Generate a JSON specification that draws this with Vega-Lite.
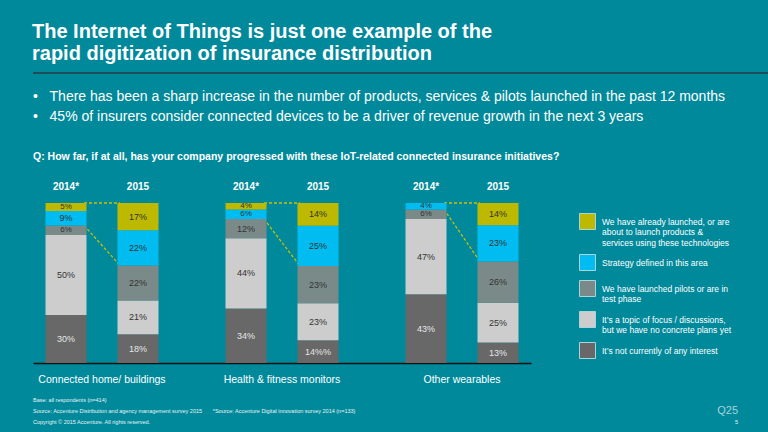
{
  "$schema": "https://vega.github.io/schema/vega-lite/v6.json",
  "background": "#00899B",
  "padding": {"left": 32, "top": 22, "right": 0, "bottom": 8},
  "config": {"font": "Liberation Sans", "view": {"stroke": null}, "concat": {"spacing": 15}},
  "resolve": {"legend": {"color": "independent"}},
  "title": {
    "text": ["The Internet of Things is just one example of the", "rapid digitization of insurance distribution"],
    "anchor": "start", "color": "#ffffff", "font": "Liberation Sans", "fontSize": 20, "fontWeight": "bold", "lineHeight": 22, "offset": 8
  },
  "vconcat": [
    {
      "width": 736, "height": 2,
      "data": {"values": [{"s": 0, "e": 1}]},
      "mark": {"type": "rule", "color": "#1F4D56", "strokeWidth": 2},
      "encoding": {
        "x": {"field": "s", "type": "quantitative", "scale": {"domain": [0, 1]}, "axis": null},
        "x2": {"field": "e"}
      }
    },
    {
      "spacing": 13,
      "resolve": {"legend": {"color": "independent"}},
      "vconcat": [
        {
          "title": {
            "text": ["•\u00a0\u00a0\u00a0There has been a sharp increase in the number of products, services & pilots launched in the past 12 months", "•\u00a0\u00a0\u00a045% of insurers consider connected devices to be a driver of revenue growth in the next 3 years"],
            "subtitle": "Q: How far, if at all, has your company progressed with these IoT-related connected insurance initiatives?",
            "anchor": "start", "color": "#ffffff", "fontSize": 14, "fontWeight": "normal", "lineHeight": 20,
            "subtitleColor": "#ffffff", "subtitleFontSize": 10.5, "subtitleFontWeight": "bold", "subtitlePadding": 28, "offset": 20
          },
          "width": 498, "height": 160,
          "layer": [
            {
              "data": {"values": [
                {"group": "Connected home/ buildings", "conn": "top", "slot": "a", "lvl": 1},
                {"group": "Connected home/ buildings", "conn": "top", "slot": "b", "lvl": 1},
                {"group": "Connected home/ buildings", "conn": "diag", "slot": "a", "lvl": 0.86},
                {"group": "Connected home/ buildings", "conn": "diag", "slot": "b", "lvl": 0.61},
                {"group": "Health & fitness monitors", "conn": "top", "slot": "a", "lvl": 1},
                {"group": "Health & fitness monitors", "conn": "top", "slot": "b", "lvl": 1},
                {"group": "Health & fitness monitors", "conn": "diag", "slot": "a", "lvl": 0.90},
                {"group": "Health & fitness monitors", "conn": "diag", "slot": "b", "lvl": 0.606},
                {"group": "Other wearables", "conn": "top", "slot": "a", "lvl": 1},
                {"group": "Other wearables", "conn": "top", "slot": "b", "lvl": 1},
                {"group": "Other wearables", "conn": "diag", "slot": "a", "lvl": 0.96},
                {"group": "Other wearables", "conn": "diag", "slot": "b", "lvl": 0.634}
              ]},
              "mark": {"type": "line", "color": "#C8C000", "strokeDash": [3, 2], "strokeWidth": 1.3},
              "encoding": {
                "x": {"field": "group", "type": "nominal"},
                "xOffset": {"field": "slot", "type": "nominal"},
                "y": {"field": "lvl", "type": "quantitative"},
                "detail": [{"field": "group"}, {"field": "conn"}]
              }
            },
            {
              "data": {"name": "bars"},
              "layer": [
                {
                  "mark": {"type": "bar", "width": 41},
                  "encoding": {
                    "x": {"field": "group", "type": "nominal"},
                    "xOffset": {"field": "year", "type": "nominal"},
                    "y": {"field": "v", "type": "quantitative", "stack": "normalize"},
                    "order": {"field": "rank", "type": "quantitative", "sort": "ascending"},
                    "color": {
                      "field": "cat", "type": "nominal",
                      "scale": {"domain": ["launched", "strategy", "pilots", "topic", "none"], "range": ["#BDB900", "#00BCF0", "#7A8A88", "#CDCDCD", "#686868"]},
                      "legend": {
                        "title": null, "orient": "right", "offset": 38, "padding": 10,
                        "symbolType": "square", "symbolSize": 256, "symbolStrokeColor": "#A8D4DA", "symbolStrokeWidth": 1, "symbolOpacity": 1,
                        "labelColor": "#ffffff", "labelFontSize": 8.5, "labelLimit": 300, "labelOffset": 6, "rowPadding": 5,
                        "labelExpr": "datum.label == 'launched' ? ['We have already launched, or are', 'about to launch products &', 'services using these technologies'] : datum.label == 'strategy' ? 'Strategy defined in this area' : datum.label == 'pilots' ? ['We have launched pilots or are in', 'test phase'] : datum.label == 'topic' ? ['It\u2019s a topic of focus / discussions,', 'but we have no concrete plans yet'] : 'It\u2019s not currently  of any interest'"
                      }
                    }
                  }
                },
                {
                  "mark": {"type": "text", "baseline": "middle"},
                  "encoding": {
                    "x": {"field": "group", "type": "nominal"},
                    "xOffset": {"field": "year", "type": "nominal"},
                    "y": {"field": "v", "type": "quantitative", "stack": "normalize", "bandPosition": 0.5},
                    "order": {"field": "rank", "type": "quantitative", "sort": "ascending"},
                    "detail": {"field": "cat"},
                    "text": {"field": "lbl"},
                    "size": {"condition": {"test": "datum.v < 8", "value": 8}, "value": 9},
                    "color": {"condition": {"test": "datum.cat === 'none'", "value": "#E6E6E6"}, "value": "#333333"}
                  }
                }
              ]
            },
            {
              "data": {"values": [
                {"group": "Connected home/ buildings", "year": "2014", "t": "2014*"},
                {"group": "Connected home/ buildings", "year": "2015", "t": "2015"},
                {"group": "Health & fitness monitors", "year": "2014", "t": "2014*"},
                {"group": "Health & fitness monitors", "year": "2015", "t": "2015"},
                {"group": "Other wearables", "year": "2014", "t": "2014*"},
                {"group": "Other wearables", "year": "2015", "t": "2015"}
              ]},
              "mark": {"type": "text", "fontSize": 10, "fontWeight": "bold", "color": "#ffffff", "dy": -16},
              "encoding": {
                "x": {"field": "group", "type": "nominal"},
                "xOffset": {"field": "year", "type": "nominal"},
                "y": {"datum": 1, "type": "quantitative"},
                "text": {"field": "t"}
              }
            }
          ],
          "encoding": {
            "x": {
              "field": "group", "type": "nominal",
              "sort": ["Connected home/ buildings", "Health & fitness monitors", "Other wearables"],
              "scale": {"paddingInner": 0.5, "paddingOuter": 0.1333},
              "axis": {"title": null, "orient": "bottom", "labelAngle": 0, "labelColor": "#ffffff", "labelFontSize": 10.5, "labelPadding": 11, "ticks": false, "domainColor": "#111111", "domainWidth": 1.5}
            },
            "xOffset": {
              "field": "year", "type": "nominal",
              "scale": {"domain": ["2014", "a", "m", "b", "2015"], "paddingInner": 0, "paddingOuter": 0}
            },
            "y": {"type": "quantitative", "scale": {"domain": [0, 1]}, "axis": null}
          }
        },
        {
          "width": 705, "height": 22,
          "data": {"values": [
            {"side": "left", "line": 1, "t": "Base: all respondents (n=414)"},
            {"side": "left", "line": 2, "t": "Source: Accenture Distribution and agency management survey 2015\u00a0\u00a0\u00a0\u00a0\u00a0\u00a0\u00a0*Source: Accenture Digital innovation survey 2014 (n=133)"},
            {"side": "left", "line": 3, "t": "Copyright © 2015 Accenture. All rights reserved."},
            {"side": "right", "line": 2, "t": "Q25"},
            {"side": "right", "line": 3, "t": "5"}
          ]},
          "encoding": {
            "x": {"field": "side", "type": "nominal", "scale": {"type": "point", "domain": ["left", "right"], "padding": 0}, "axis": null},
            "y": {"field": "line", "type": "ordinal", "scale": {"type": "point", "domain": [1, 2, 3], "padding": 0}, "axis": null},
            "text": {"field": "t"}
          },
          "layer": [
            {"transform": [{"filter": "datum.side === 'left'"}], "mark": {"type": "text", "align": "left", "fontSize": 5.5, "color": "#E8F4F5"}},
            {"transform": [{"filter": "datum.side === 'right' && datum.line === 2"}], "mark": {"type": "text", "align": "right", "fontSize": 11, "color": "#A6D3DA"}},
            {"transform": [{"filter": "datum.side === 'right' && datum.line === 3"}], "mark": {"type": "text", "align": "right", "fontSize": 5.5, "color": "#E8F4F5"}}
          ]
        }
      ]
    }
  ],
  "datasets": {
    "bars": [
      {"group": "Connected home/ buildings", "year": "2014", "cat": "none", "rank": 1, "v": 30, "lbl": "30%"},
      {"group": "Connected home/ buildings", "year": "2014", "cat": "topic", "rank": 2, "v": 50, "lbl": "50%"},
      {"group": "Connected home/ buildings", "year": "2014", "cat": "pilots", "rank": 3, "v": 6, "lbl": "6%"},
      {"group": "Connected home/ buildings", "year": "2014", "cat": "strategy", "rank": 4, "v": 9, "lbl": "9%"},
      {"group": "Connected home/ buildings", "year": "2014", "cat": "launched", "rank": 5, "v": 5, "lbl": "5%"},
      {"group": "Connected home/ buildings", "year": "2015", "cat": "none", "rank": 1, "v": 18, "lbl": "18%"},
      {"group": "Connected home/ buildings", "year": "2015", "cat": "topic", "rank": 2, "v": 21, "lbl": "21%"},
      {"group": "Connected home/ buildings", "year": "2015", "cat": "pilots", "rank": 3, "v": 22, "lbl": "22%"},
      {"group": "Connected home/ buildings", "year": "2015", "cat": "strategy", "rank": 4, "v": 22, "lbl": "22%"},
      {"group": "Connected home/ buildings", "year": "2015", "cat": "launched", "rank": 5, "v": 17, "lbl": "17%"},
      {"group": "Health & fitness monitors", "year": "2014", "cat": "none", "rank": 1, "v": 34, "lbl": "34%"},
      {"group": "Health & fitness monitors", "year": "2014", "cat": "topic", "rank": 2, "v": 44, "lbl": "44%"},
      {"group": "Health & fitness monitors", "year": "2014", "cat": "pilots", "rank": 3, "v": 12, "lbl": "12%"},
      {"group": "Health & fitness monitors", "year": "2014", "cat": "strategy", "rank": 4, "v": 6, "lbl": "6%"},
      {"group": "Health & fitness monitors", "year": "2014", "cat": "launched", "rank": 5, "v": 4, "lbl": "4%"},
      {"group": "Health & fitness monitors", "year": "2015", "cat": "none", "rank": 1, "v": 14, "lbl": "14%%"},
      {"group": "Health & fitness monitors", "year": "2015", "cat": "topic", "rank": 2, "v": 23, "lbl": "23%"},
      {"group": "Health & fitness monitors", "year": "2015", "cat": "pilots", "rank": 3, "v": 23, "lbl": "23%"},
      {"group": "Health & fitness monitors", "year": "2015", "cat": "strategy", "rank": 4, "v": 25, "lbl": "25%"},
      {"group": "Health & fitness monitors", "year": "2015", "cat": "launched", "rank": 5, "v": 14, "lbl": "14%"},
      {"group": "Other wearables", "year": "2014", "cat": "none", "rank": 1, "v": 43, "lbl": "43%"},
      {"group": "Other wearables", "year": "2014", "cat": "topic", "rank": 2, "v": 47, "lbl": "47%"},
      {"group": "Other wearables", "year": "2014", "cat": "pilots", "rank": 3, "v": 6, "lbl": "6%"},
      {"group": "Other wearables", "year": "2014", "cat": "strategy", "rank": 4, "v": 4, "lbl": "4%"},
      {"group": "Other wearables", "year": "2015", "cat": "none", "rank": 1, "v": 13, "lbl": "13%"},
      {"group": "Other wearables", "year": "2015", "cat": "topic", "rank": 2, "v": 25, "lbl": "25%"},
      {"group": "Other wearables", "year": "2015", "cat": "pilots", "rank": 3, "v": 26, "lbl": "26%"},
      {"group": "Other wearables", "year": "2015", "cat": "strategy", "rank": 4, "v": 23, "lbl": "23%"},
      {"group": "Other wearables", "year": "2015", "cat": "launched", "rank": 5, "v": 14, "lbl": "14%"}
    ]
  }
}
